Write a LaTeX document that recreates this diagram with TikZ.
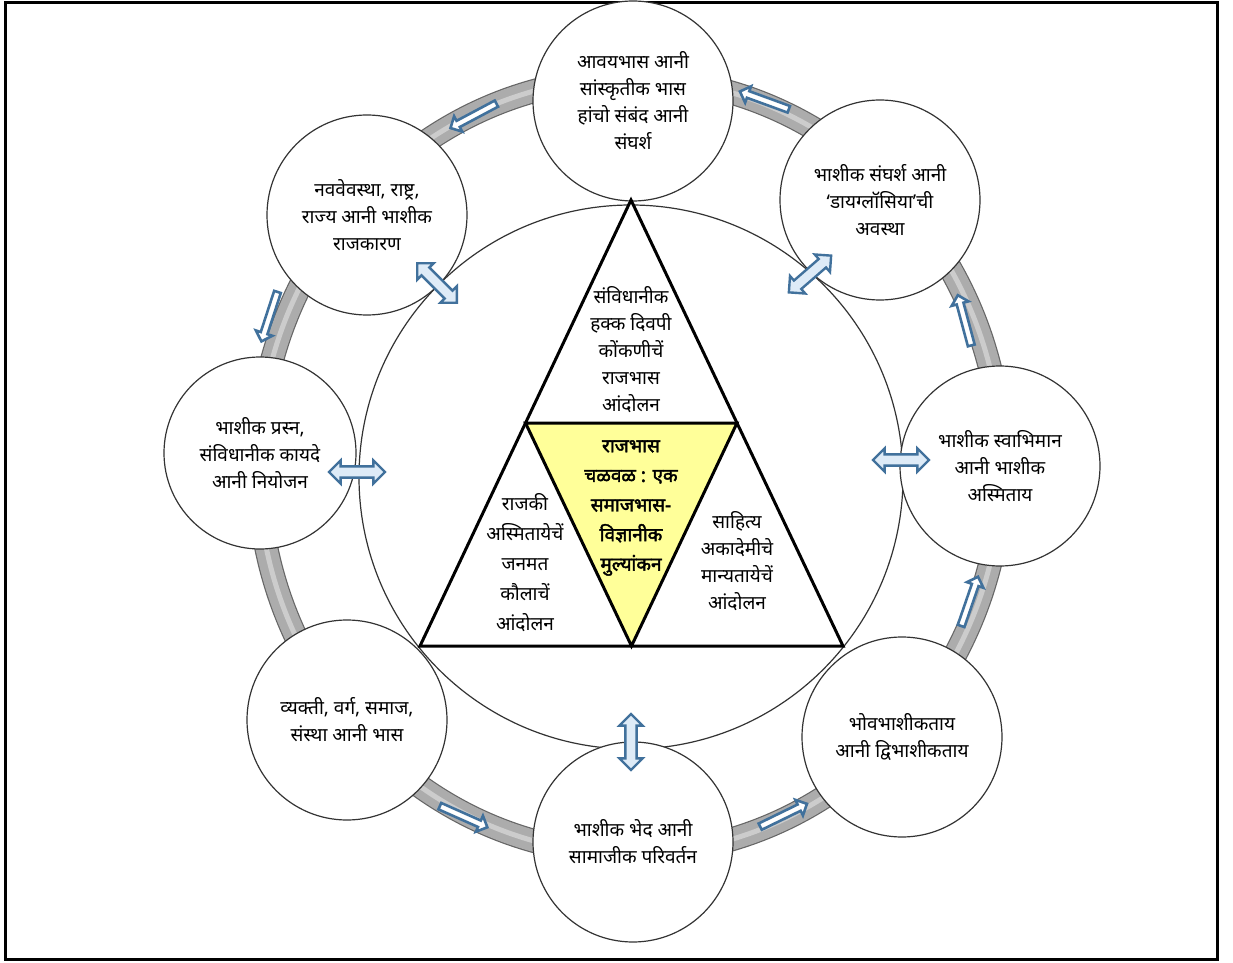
\documentclass[tikz,border=0pt]{standalone}
\usepackage{fontspec}
\newfontfamily\devfont[Script=Devanagari]{Noto Sans}
\newfontfamily\devbold[Script=Devanagari, FakeBold=2.2]{Noto Sans}
\usetikzlibrary{shapes.arrows}

\definecolor{arrowblue}{RGB}{65,113,156}
\definecolor{arrowfill}{RGB}{222,235,247}
\definecolor{coreyellow}{RGB}{255,255,153}

\begin{document}
\begin{tikzpicture}[x=0.5pt, y=-0.5pt,
    sat/.style={circle, draw=black!80, line width=0.6pt, fill=white, minimum size=100pt, inner sep=0pt, align=center, font=\devfont\fontsize{9.5}{13.5}\selectfont},
    txt/.style={align=center, inner sep=0pt, font=\devfont\fontsize{9.5}{13.5}\selectfont},
    tri/.style={draw=black, line width=1.5pt, line join=miter},
    link/.style={double arrow, draw=arrowblue, fill=arrowfill, line width=1.2pt, minimum height=28pt, inner sep=2.2pt, double arrow head extend=3pt},
    flow/.style={single arrow, draw=arrowblue, fill=white, line width=1.3pt, minimum height=26pt, inner sep=1.1pt, single arrow head extend=2.6pt}]
    \useasboundingbox (0,0) rectangle (1233,963);
    \draw[line width=1.5pt] (5,3) rectangle (1217,959);

    % ring band
    \draw[black!60, line width=12pt] (630,466) ellipse [x radius=372, y radius=388];
    \draw[gray!65, line width=10.8pt] (630,466) ellipse [x radius=372, y radius=388];
    \draw[gray!40, line width=2.5pt] (630,466) ellipse [x radius=372, y radius=388];

    \node[circle, draw=black!80, line width=0.6pt, fill=white, minimum size=272pt] (core) at (631,477) {};

    \node[sat] (a) at (633,101) {आवयभास आनी\\सांस्कृतीक भास\\हांचो संबंद आनी\\संघर्श};
    \node[sat] (b) at (880,200) {भाशीक संघर्श आनी\\‘डायग्लॉसिया’ची\\अवस्था};
    \node[sat] (c) at (1000,466) {भाशीक स्वाभिमान\\आनी भाशीक\\अस्मिताय};
    \node[sat] (d) at (902,737) {भोवभाशीकताय\\आनी द्विभाशीकताय};
    \node[sat] (e) at (633,842) {भाशीक भेद आनी\\सामाजीक परिवर्तन};
    \node[sat] (f) at (347,720) {व्यक्ती, वर्ग, समाज,\\संस्था आनी भास};
    \node[sat, minimum size=96pt] (g) at (260,453) {भाशीक प्रस्न,\\संविधानीक कायदे\\आनी नियोजन};
    \node[sat] (h) at (367,215) {नववेवस्था, राष्ट्र,\\राज्य आनी भाशीक\\राजकारण};

    \coordinate (apex) at (631,200);
    \coordinate (lft) at (420,646);
    \coordinate (rgt) at (843,646);
    \coordinate (ml) at (525.5,423);
    \coordinate (mr) at (737,423);
    \coordinate (mb) at (631.5,646);
    \draw[tri, fill=white] (apex) -- (rgt) -- (lft) -- cycle;
    \filldraw[tri, fill=coreyellow] (ml) -- (mr) -- (mb) -- cycle;

    \node[txt] (upper) at (631,350) {संविधानीक\\हक्क दिवपी\\कोंकणीचें\\राजभास\\आंदोलन};
    \node[txt, font=\devbold\fontsize{9.5}{14.8}\selectfont] (mid) at (631,508) {राजभास\\चळवळ : एक\\समाजभास-\\विज्ञानीक\\मुल्यांकन};
    \node[txt, font=\devfont\fontsize{9.5}{15}\selectfont] (left) at (525,563) {राजकी\\अस्मितायेचें\\जनमत\\कौलाचें\\आंदोलन};
    \node[txt] (right) at (737,561) {साहित्य\\अकादेमीचे\\मान्यतायेचें\\आंदोलन};

    % links to the core
    \node[link, rotate=-45] (lh) at (437,283) {};
    \node[link, rotate=41] (lb) at (810,274) {};
    \node[link] (lg) at (357,472) {};
    \node[link] (lc) at (901,460) {};
    \node[link, rotate=90] (le) at (631,742) {};

    % flow on the ring
    \node[flow, rotate=208] (fah) at (475,115) {};
    \node[flow, rotate=160] (fba) at (766,101) {};
    \node[flow, rotate=105] (fcb) at (965,322) {};
    \node[flow, rotate=71] (fdc) at (969,603) {};
    \node[flow, rotate=26] (fed) at (782,816) {};
    \node[flow, rotate=-24] (ffe) at (462,816) {};
    \node[flow, rotate=252] (fhg) at (270,315) {};
\end{tikzpicture}
\end{document}
